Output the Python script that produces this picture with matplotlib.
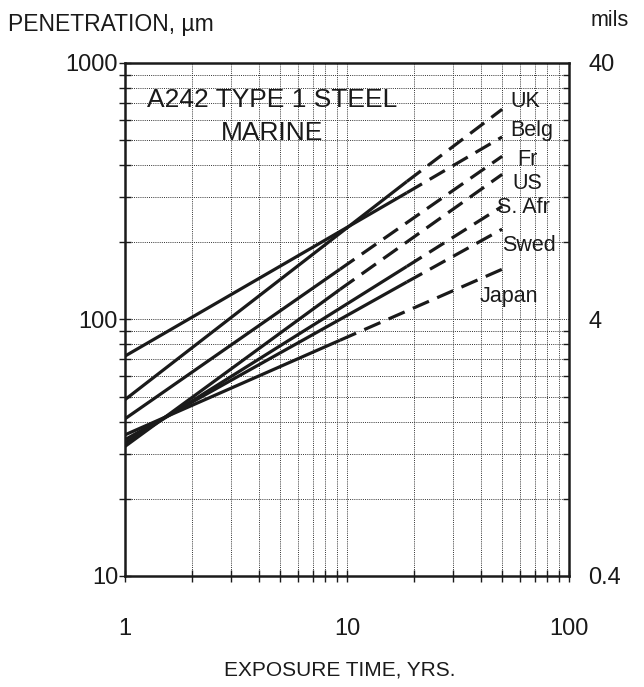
import numpy as np
import matplotlib
matplotlib.use("Agg")
import matplotlib.pyplot as plt
from matplotlib.ticker import LogLocator, NullFormatter, FixedLocator

plt.rcParams['font.family'] = ['Liberation Sans', 'DejaVu Sans']

# data (penetration in um vs exposure time in years)
countries = ["UK", "Belg", "Fr", "US", "S. Afr", "Swed", "Japan"]
t_start = [1, 1, 1, 1, 1, 1, 1]
t_break = [18.6, 18.6, 9.3, 9.3, 18.6, 18.6, 9.3]
t_end = [50, 50, 50, 50, 50, 50, 50]
p_start = [48.7, 72, 41, 32, 33, 34, 35.5]
p_break = [345, 312, 157, 131, 161, 140, 83]
p_end = [660, 515, 433, 368, 276, 225, 157]

y_ticks = [10, 100, 1000]
y_labels = ["10", "100", "1000"]
mils_labels = ["0.4", "4", "40"]
x_ticks = [1, 10, 100]
x_labels = ["1", "10", "100"]

# label positions (axes fraction)
label_pos = [(0.867, 0.924), (0.867, 0.868), (0.883, 0.811), (0.872, 0.766),
             (0.838, 0.718), (0.849, 0.645), (0.799, 0.544)]

fig = plt.figure(figsize=(6.44, 6.87), dpi=100)
ax = fig.add_axes([0.1941, 0.1616, 0.6894, 0.7467])
ax.set_xscale('log')
ax.set_yscale('log')
ax.set_xlim(1, 100)
ax.set_ylim(10, 1000)

# grid
ax.grid(True, which='both', color='#333333', linestyle=(0, (1, 1.2)), linewidth=0.7)

for i in range(len(countries)):
    ax.plot([t_start[i], t_break[i]], [p_start[i], p_break[i]],
            color='#1a1a1a', lw=2.3, solid_capstyle='butt')
    ax.plot([t_break[i], t_end[i]], [p_break[i], p_end[i]],
            color='#1a1a1a', lw=2.3, dashes=(5.5, 2.8), dash_capstyle='butt')
    ax.text(label_pos[i][0], label_pos[i][1], countries[i], transform=ax.transAxes,
            fontsize=15.5, va='center', ha='left', color='#1a1a1a')

ax.text(0.331, 0.928, "A242 TYPE 1 STEEL", transform=ax.transAxes,
        fontsize=19, ha='center', va='center', color='#1a1a1a')
ax.text(0.331, 0.864, "MARINE", transform=ax.transAxes,
        fontsize=19, ha='center', va='center', color='#1a1a1a')

for s in ax.spines.values():
    s.set_linewidth(1.8)
    s.set_color('#1a1a1a')

ax.yaxis.set_major_locator(FixedLocator(y_ticks))
ax.set_yticklabels(y_labels)
ax.xaxis.set_major_locator(FixedLocator(x_ticks))
ax.set_xticklabels(x_labels)
ax.xaxis.set_minor_locator(LogLocator(base=10, subs=np.arange(2, 10)))
ax.yaxis.set_minor_locator(LogLocator(base=10, subs=np.arange(2, 10)))
ax.xaxis.set_minor_formatter(NullFormatter())
ax.yaxis.set_minor_formatter(NullFormatter())
ax.tick_params(which='both', direction='inout', length=8, width=1.0, labelsize=17,
               colors='#1a1a1a')
ax.tick_params(axis='x', which='both', pad=26)
ax.tick_params(axis='y', which='both', pad=1)

ax2 = ax.twinx()
ax2.set_yscale('log')
ax2.set_ylim(10, 1000)
ax2.yaxis.set_major_locator(FixedLocator(y_ticks))
ax2.set_yticklabels(mils_labels)
ax2.yaxis.set_minor_formatter(NullFormatter())
ax2.tick_params(which='both', direction='in', length=4, width=1.0, labelsize=17,
                colors='#1a1a1a', pad=14)
ax2.tick_params(which='major', length=0)
for s in ax2.spines.values():
    s.set_visible(False)

fig.text(8 / 644, 1 - 24 / 687, "PENETRATION, \u00b5m", fontsize=16.5,
         ha='left', va='center', color='#1a1a1a')
fig.text(610 / 644, 1 - 20 / 687, "mils", fontsize=15.5,
         ha='center', va='center', color='#1a1a1a')
fig.text(340 / 644, 1 - 670 / 687, "EXPOSURE TIME, YRS.", fontsize=15,
         ha='center', va='center', color='#1a1a1a')

fig.savefig("out.png", dpi=100, facecolor='white')
